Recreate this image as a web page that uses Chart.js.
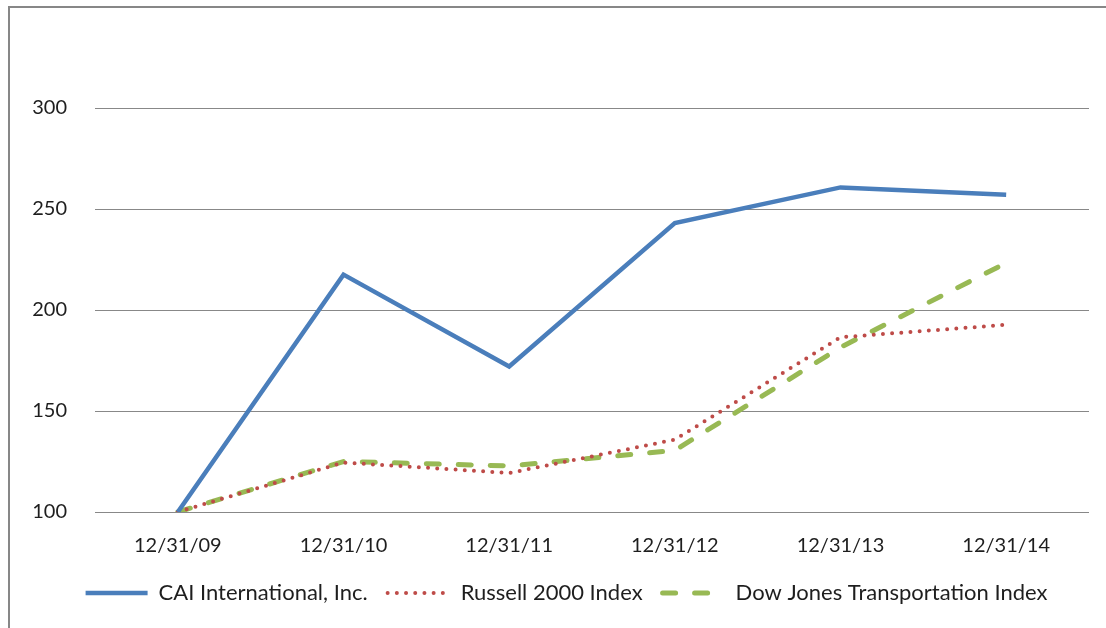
<!DOCTYPE html>
<html>
<head>
<meta charset="utf-8">
<script src="https://cdn.jsdelivr.net/npm/chart.js@4.4.1/dist/chart.umd.min.js"></script>
<style>
  html, body { margin: 0; padding: 0; background: #fff; }
  #wrap { position: relative; width: 1106px; height: 628px; overflow: hidden; }
  #frame { position: absolute; left: 8px; top: 6px; right: -10px; bottom: -10px;
           border-top: 2px solid #878787; border-left: 2px solid #878787; }
  canvas { position: absolute; left: 0; top: 0; }
</style>
</head>
<body>
<div id="wrap">
  <div id="frame"></div>
  <canvas id="c" width="1106" height="628"></canvas>
</div>
<script>
const categories = ["12/31/09", "12/31/10", "12/31/11", "12/31/12", "12/31/13", "12/31/14"];
const caiValues = [100, 217.5, 172, 243, 260.7, 257];
const russellValues = [100, 124.5, 119.3, 135.8, 186.5, 192.7];
const djtValues = [100, 125, 122.8, 130.5, 181.5, 223.3];
const yTicks = [100, 150, 200, 250, 300];

const FONT = "Lato, 'Open Sans', sans-serif";
const TEXT = "#1e1e1e";

const legendShift = {
  id: "legendShift",
  afterLayout(chart) {
    if (chart.legend) { chart.legend.left += 44; }
  }
};

new Chart(document.getElementById("c"), {
  type: "line",
  data: {
    labels: categories,
    datasets: [
      { label: "CAI International, Inc.", data: caiValues, borderColor: "#4A7EBB", backgroundColor: "#4A7EBB",
        borderWidth: 4.5, pointRadius: 0, pointStyle: "line", tension: 0, borderCapStyle: "butt", borderJoinStyle: "miter" },
      { label: "Russell 2000 Index", data: russellValues, borderColor: "#BE4B48", backgroundColor: "#BE4B48",
        borderWidth: 4, borderDash: [0, 9.2], borderCapStyle: "round", pointRadius: 0, pointStyle: "line", tension: 0 },
      { label: "Dow Jones Transportation Index", data: djtValues, borderColor: "#98B954", backgroundColor: "#98B954",
        borderWidth: 5, borderDash: [13, 19], borderCapStyle: "round", pointRadius: 0, pointStyle: "line", tension: 0 }
    ]
  },
  plugins: [legendShift],
  options: {
    responsive: false,
    animation: false,
    devicePixelRatio: 1,
    layout: { padding: { left: 0, right: 17, top: 108, bottom: 14 } },
    plugins: {
      tooltip: { enabled: false },
      legend: {
        position: "bottom",
        labels: {
          usePointStyle: true,
          pointStyleWidth: 62,
          boxHeight: 10,
          padding: 20,
          color: TEXT,
          font: { family: FONT, size: 22 },
          generateLabels: (chart) => {
            const items = Chart.defaults.plugins.legend.labels.generateLabels(chart);
            items.forEach((it) => {
              const ds = chart.data.datasets[it.datasetIndex];
              it.strokeStyle = ds.borderColor;
              it.lineWidth = ds.borderWidth;
              it.lineDash = ds.borderDash || [];
              it.lineCap = ds.borderCapStyle || "butt";
              it.pointStyle = "line";
            });
            return items;
          }
        }
      }
    },
    scales: {
      x: {
        grid: { display: false, drawTicks: false },
        border: { display: false },
        offset: true,
        ticks: { color: TEXT, font: { family: FONT, size: 20 }, padding: 22, maxRotation: 0 },
        afterFit: (s) => { s.height = 50; }
      },
      y: {
        min: 100, max: 300,
        afterBuildTicks: (s) => { s.ticks = yTicks.map(v => ({ value: v })); },
        grid: { color: "#888888", lineWidth: 1, drawTicks: false },
        border: { display: false },
        ticks: { color: TEXT, font: { family: FONT, size: 20 }, padding: 28 },
        afterFit: (s) => { s.width = 95; }
      }
    }
  }
});
</script>
</body>
</html>
